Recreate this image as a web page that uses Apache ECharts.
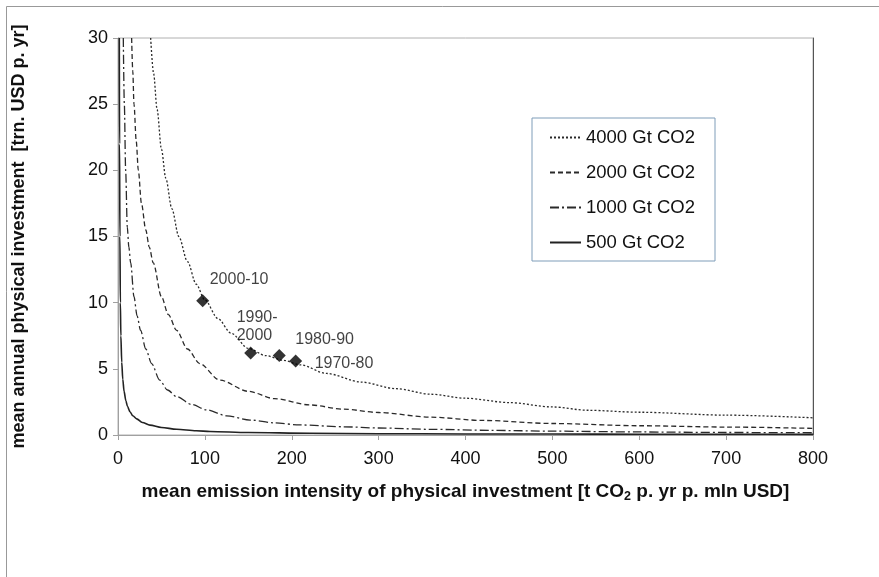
<!DOCTYPE html>
<html>
<head>
<meta charset="utf-8">
<script src="https://cdn.jsdelivr.net/npm/echarts@6/dist/echarts.min.js"></script>
<style>html,body{margin:0;padding:0;background:#fff}#c{width:879px;height:577px}</style>
</head>
<body>
<div id="c"></div>
<script>
// ---- data ----
const seriesNames = ['4000 Gt CO2', '2000 Gt CO2', '1000 Gt CO2', '500 Gt CO2'];

const x4000 = [37.6, 41, 45, 50, 55, 62, 70, 80, 90, 100, 115, 130, 150, 170, 190, 210, 240, 280, 320, 360, 400, 450, 500, 540, 600, 700, 800];
const y4000 = [30, 27.3, 24.6, 21.6, 19.4, 17.1, 15.0, 13.1, 11.4, 10.2, 8.8, 7.7, 6.55, 6.0, 5.65, 5.3, 4.65, 4.0, 3.5, 3.08, 2.78, 2.45, 2.12, 1.87, 1.72, 1.5, 1.3];

const x2000 = [15.7, 17, 18.4, 21, 23.4, 27, 32, 36, 40.6, 50, 58, 67.5, 80, 94, 117, 150, 180, 221, 260, 300, 359, 420, 500, 600, 700, 800];
const y2000 = [30, 27.5, 25, 22.2, 20, 17.5, 15.5, 14.2, 13, 10.45, 9.1, 7.9, 6.5, 5.4, 4.15, 3.3, 2.75, 2.27, 1.95, 1.7, 1.35, 1.1, 0.87, 0.7, 0.6, 0.5];

const x1000 = [6.1, 7.3, 8.8, 10.7, 12.5, 14.6, 18.4, 22, 26, 32, 38.7, 48, 57, 67.5, 85, 102, 125, 152, 180, 209, 260, 300, 359, 430, 500, 600, 700, 800];
const y1000 = [30, 25, 20, 15.7, 14.2, 13, 10.45, 9.0, 7.9, 6.5, 5.4, 4.15, 3.4, 2.9, 2.3, 1.9, 1.45, 1.13, 0.92, 0.76, 0.62, 0.53, 0.43, 0.35, 0.29, 0.23, 0.19, 0.17];

const x500 = [1.5, 1.8, 2.2, 2.7, 3.3, 4.3, 5.5, 7, 9, 11, 13.8, 17, 21.5, 28, 36.8, 50, 67.5, 90, 106, 150, 221, 300, 400, 500, 600, 700, 800];
const y500 = [30, 22, 15, 10, 7.5, 5.5, 4.2, 3.3, 2.6, 2.15, 1.76, 1.45, 1.22, 0.95, 0.75, 0.57, 0.43, 0.32, 0.27, 0.19, 0.13, 0.1, 0.08, 0.07, 0.06, 0.055, 0.05];

const decadeLabels = ['2000-10', '1990-\n2000', '1980-90', '1970-80'];
const decadeX = [97.5, 152.7, 185.6, 204.5];
const decadeY = [10.15, 6.2, 6.0, 5.6];
// --------------------------------------

const pairs = (xs, ys) => xs.map((x, i) => [x, ys[i]]);
const FONT = 'Liberation Sans, Arial, sans-serif';

const lineStyles = [
  { type: [2, 2], width: 1.3, color: '#2a2a2a' },
  { type: [5, 3], width: 1.3, color: '#2a2a2a' },
  { type: [9, 3, 2, 3], width: 1.3, color: '#2a2a2a' },
  { type: 'solid', width: 1.6, color: '#222' }
];
const curveData = [pairs(x4000, y4000), pairs(x2000, y2000), pairs(x1000, y1000), pairs(x500, y500)];

const labelOffsets = [[7, -21], [-14, -26], [16, -16], [19, 3]];

const chart = echarts.init(document.getElementById('c'), null, { renderer: 'canvas' });

const series = seriesNames.map((name, i) => ({
  name,
  type: 'line',
  data: curveData[i],
  showSymbol: false,
  symbol: 'none',
  smooth: 0.3,
  smoothMonotone: 'x',
  lineStyle: lineStyles[i],
  itemStyle: { color: lineStyles[i].color },
  clip: true,
  z: 2
}));

series.push({
  name: 'decades',
  type: 'scatter',
  symbol: 'diamond',
  symbolSize: 13,
  itemStyle: { color: '#000' },
  z: 5,
  data: decadeX.map((x, i) => ({
    value: [x, decadeY[i]],
    label: {
      show: true,
      formatter: decadeLabels[i],
      position: 'inside',
      align: 'left',
      verticalAlign: 'middle',
      offset: labelOffsets[i],
      fontFamily: FONT,
      fontSize: 16,
      lineHeight: 18,
      color: '#111'
    }
  }))
});

chart.setOption({
  animation: false,
  backgroundColor: '#fff',
  textStyle: { fontFamily: FONT },
  grid: { left: 118, right: 66, top: 38, bottom: 142, show: true, borderColor: '#b0b0b0', borderWidth: 1 },
  legend: {
    data: seriesNames,
    orient: 'vertical',
    left: 532,
    top: 118,
    padding: [10, 20, 9, 17],
    itemGap: 16,
    itemWidth: 31,
    itemHeight: 17,
    borderColor: '#7f9db9',
    borderWidth: 1,
    backgroundColor: '#fff',
    itemStyle: { color: 'rgba(0,0,0,0)', borderColor: 'rgba(0,0,0,0)', borderWidth: 0 },
    textStyle: { fontFamily: FONT, fontSize: 18.5, color: '#111' },
    selectedMode: false
  },
  xAxis: {
    type: 'value',
    min: 0, max: 800, interval: 100,
    name: 'mean emission intensity of physical investment [t CO{sub|2} p. yr p. mln USD]',
    nameLocation: 'middle',
    nameGap: 46,
    nameTextStyle: {
      fontFamily: FONT, fontSize: 19, fontWeight: 'bold', color: '#111',
      rich: { sub: { fontSize: 12.5, fontWeight: 'bold', verticalAlign: 'bottom', padding: [9, 0, 0, 0], fontFamily: FONT, color: '#111' } }
    },
    axisLine: { show: true, lineStyle: { color: '#a0a0a0', width: 1 } },
    axisTick: { show: true, inside: false, length: 5, lineStyle: { color: '#a0a0a0' } },
    axisLabel: { fontFamily: FONT, fontSize: 18, color: '#111', margin: 15 },
    splitLine: { show: false }
  },
  yAxis: [{
    type: 'value',
    min: 0, max: 30, interval: 5,
    name: 'mean annual physical investment  [trn. USD p. yr]',
    nameLocation: 'middle',
    nameGap: 90,
    nameTextStyle: { fontFamily: FONT, fontSize: 18, fontWeight: 'bold', color: '#111' },
    axisLine: { show: true, lineStyle: { color: '#a0a0a0', width: 1 } },
    axisTick: { show: true, inside: false, length: 5, lineStyle: { color: '#a0a0a0' } },
    axisLabel: { fontFamily: FONT, fontSize: 18, color: '#111', margin: 10 },
    splitLine: { show: false }
  }, {
    type: 'value',
    position: 'right',
    min: 0, max: 30, interval: 5,
    axisLine: { show: true, lineStyle: { color: '#555', width: 1 } },
    axisTick: { show: false },
    axisLabel: { show: false },
    splitLine: { show: false }
  }],
  graphic: [{
    type: 'polyline',
    shape: { points: [[6.5, 577], [6.5, 6.5], [879, 6.5]] },
    style: { stroke: '#999', lineWidth: 1, fill: null },
    silent: true
  }],
  series
});
</script>
</body>
</html>
